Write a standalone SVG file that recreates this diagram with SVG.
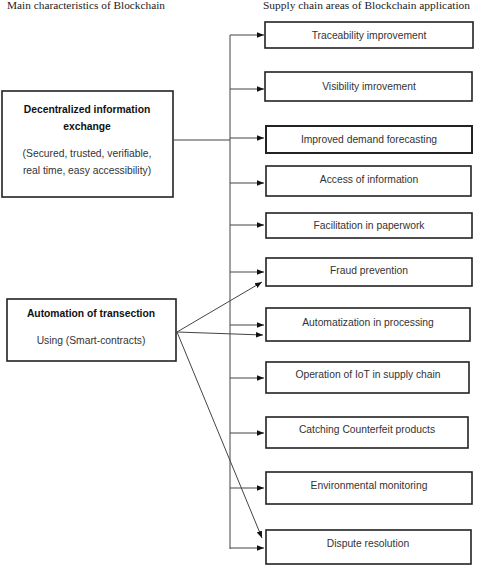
<svg xmlns="http://www.w3.org/2000/svg" width="478" height="566" viewBox="0 0 478 566">
<style>
.box{fill:#fff;stroke:#222;stroke-width:1.6}
.t{font-family:"Liberation Sans",Arial,sans-serif;font-size:10.3px;fill:#333;text-anchor:middle}
.b{font-weight:bold;fill:#111}
.hd{font-family:"Liberation Serif","Times New Roman",serif;font-size:10px;fill:#222}
.ln{fill:none;stroke:#444;stroke-width:1}
</style>
<defs>
<marker id="ah" viewBox="0 0 10 10" refX="10" refY="5" markerWidth="7" markerHeight="7" markerUnits="userSpaceOnUse" orient="auto">
<path d="M0,1 L10,5 L0,9 z" fill="#111"/>
</marker>
</defs>
<text class="hd" x="7" y="9" textLength="158" lengthAdjust="spacingAndGlyphs">Main characteristics of Blockchain</text>
<text class="hd" x="263" y="9" textLength="207" lengthAdjust="spacingAndGlyphs">Supply chain areas of Blockchain application</text>
<g id="connectors">
<path class="ln" d="M230,549 V35"/>
<path class="ln" d="M174,140 H230"/>
<path class="ln" d="M230,35 H264" marker-end="url(#ah)"/>
<path class="ln" d="M230,89 H264" marker-end="url(#ah)"/>
<path class="ln" d="M230,138 H264" marker-end="url(#ah)"/>
<path class="ln" d="M230,183 H264" marker-end="url(#ah)"/>
<path class="ln" d="M230,225 H264" marker-end="url(#ah)"/>
<path class="ln" d="M230,272 H264" marker-end="url(#ah)"/>
<path class="ln" d="M230,325 H264" marker-end="url(#ah)"/>
<path class="ln" d="M230,378 H264" marker-end="url(#ah)"/>
<path class="ln" d="M230,433 H264" marker-end="url(#ah)"/>
<path class="ln" d="M230,488 H264" marker-end="url(#ah)"/>
<path class="ln" d="M230,548 H264" marker-end="url(#ah)"/>
<path class="ln" d="M177,332 L262,282" marker-end="url(#ah)"/>
<path class="ln" d="M177,332 L263,335" marker-end="url(#ah)"/>
<path class="ln" d="M177,332 L262,538" marker-end="url(#ah)"/>
</g>
<g id="decentralized">
<rect class="box" x="2" y="91" width="171" height="106"/>
<text class="t b" x="87" y="113">Decentralized information</text>
<text class="t b" x="87" y="130">exchange</text>
<text class="t" x="87" y="157">(Secured, trusted, verifiable,</text>
<text class="t" x="87" y="174">real time, easy accessibility)</text>
</g>
<g id="automation">
<rect class="box" x="7" y="299" width="169" height="62"/>
<text class="t b" x="91" y="317">Automation of transection</text>
<text class="t" x="91" y="344">Using (Smart-contracts)</text>
</g>
<g id="n1"><rect class="box" x="265" y="22" width="208" height="26"/><text class="t" x="369" y="39">Traceability improvement</text></g>
<g id="n2"><rect class="box" x="265" y="72" width="207" height="29"/><text class="t" x="369" y="90">Visibility imrovement</text></g>
<g id="n3"><rect class="box" x="266" y="126" width="206" height="27" style="stroke-width:2"/><text class="t" x="369" y="143">Improved demand forecasting</text></g>
<g id="n4"><rect class="box" x="266" y="166" width="205" height="30"/><text class="t" x="369" y="183">Access of information</text></g>
<g id="n5"><rect class="box" x="266" y="213" width="206" height="25"/><text class="t" x="369" y="229">Facilitation in paperwork</text></g>
<g id="n6"><rect class="box" x="266" y="258" width="206" height="28"/><text class="t" x="369" y="274">Fraud prevention</text></g>
<g id="n7"><rect class="box" x="266" y="308" width="204" height="33"/><text class="t" x="368" y="326">Automatization in processing</text></g>
<g id="n8"><rect class="box" x="266" y="362" width="203" height="31"/><text class="t" x="368" y="378">Operation of IoT in supply chain</text></g>
<g id="n9"><rect class="box" x="266" y="417" width="202" height="31"/><text class="t" x="367" y="433">Catching Counterfeit products</text></g>
<g id="n10"><rect class="box" x="266" y="472" width="206" height="32"/><text class="t" x="369" y="489">Environmental monitoring</text></g>
<g id="n11"><rect class="box" x="266" y="530" width="205" height="34"/><text class="t" x="368" y="547">Dispute resolution</text></g>
</svg>
